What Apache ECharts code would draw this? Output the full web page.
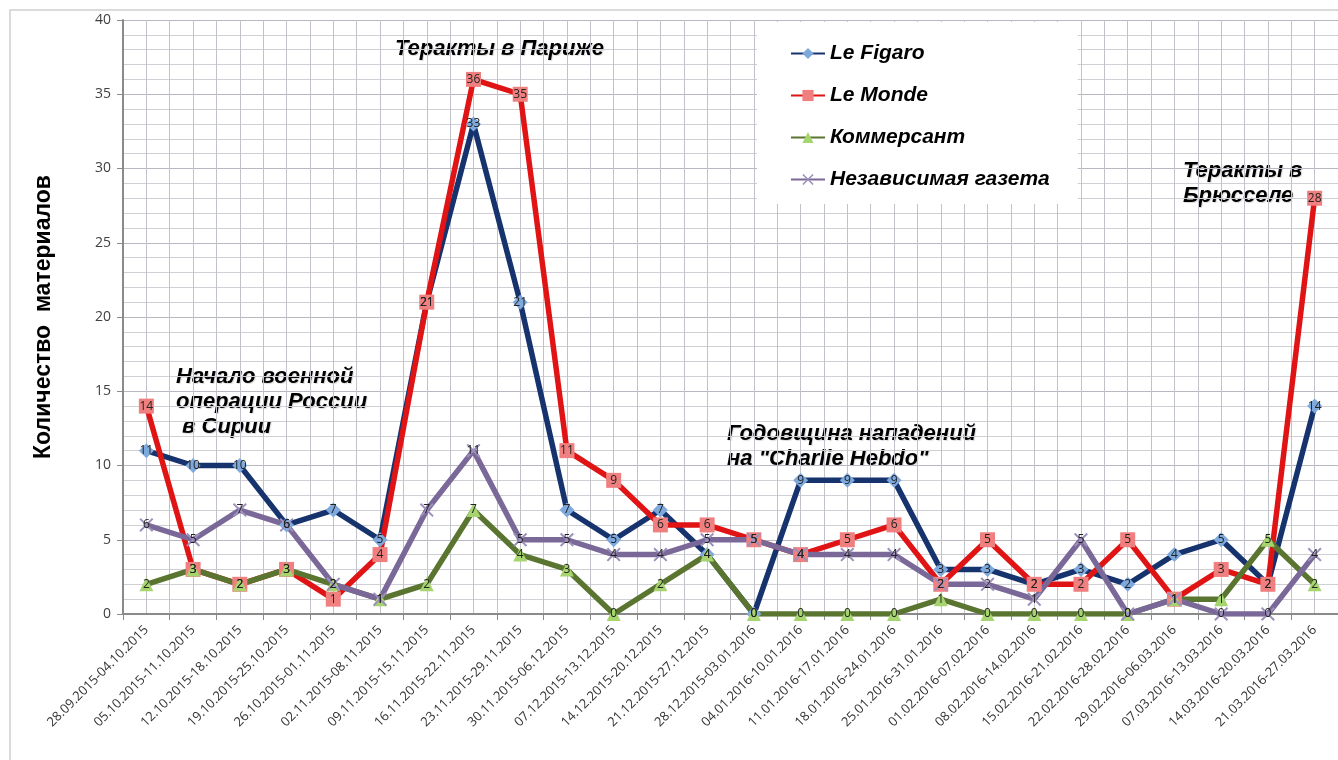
<!DOCTYPE html>
<html>
<head>
<meta charset="utf-8">
<script src="https://cdn.jsdelivr.net/npm/echarts@6/dist/echarts.min.js"></script>
<style>
  html, body { margin: 0; padding: 0; background: #fff; }
  #chart { width: 1338px; height: 760px; }
</style>
</head>
<body>
<div id="chart"></div>
<script>
const weeks = [
  '28.09.2015-04.10.2015', '05.10.2015-11.10.2015', '12.10.2015-18.10.2015',
  '19.10.2015-25.10.2015', '26.10.2015-01.11.2015', '02.11.2015-08.11.2015',
  '09.11.2015-15.11.2015', '16.11.2015-22.11.2015', '23.11.2015-29.11.2015',
  '30.11.2015-06.12.2015', '07.12.2015-13.12.2015', '14.12.2015-20.12.2015',
  '21.12.2015-27.12.2015', '28.12.2015-03.01.2016', '04.01.2016-10.01.2016',
  '11.01.2016-17.01.2016', '18.01.2016-24.01.2016', '25.01.2016-31.01.2016',
  '01.02.2016-07.02.2016', '08.02.2016-14.02.2016', '15.02.2016-21.02.2016',
  '22.02.2016-28.02.2016', '29.02.2016-06.03.2016', '07.03.2016-13.03.2016',
  '14.03.2016-20.03.2016', '21.03.2016-27.03.2016'
];
const leFigaro    = [11, 10, 10, 6, 7, 5, 21, 33, 21, 7, 5, 7, 4, 0, 9, 9, 9, 3, 3, 2, 3, 2, 4, 5, 2, 14];
const leMonde     = [14, 3, 2, 3, 1, 4, 21, 36, 35, 11, 9, 6, 6, 5, 4, 5, 6, 2, 5, 2, 2, 5, 1, 3, 2, 28];
const kommersant  = [2, 3, 2, 3, 2, 1, 2, 7, 4, 3, 0, 2, 4, 0, 0, 0, 0, 1, 0, 0, 0, 0, 1, 1, 5, 2];
const nezavisimaya = [6, 5, 7, 6, 2, 1, 7, 11, 5, 5, 4, 4, 5, 5, 4, 4, 4, 2, 2, 1, 5, 0, 1, 0, 0, 4];

const crossPath = 'path://M1,0L5,4L9,0L10,1L6,5L10,9L9,10L5,6L1,10L0,9L4,5L0,1Z';

function lineSeries(name, data, color, symbol, symbolColor, symbolSize) {
    return {
        name: name,
        type: 'line',
        data: data,
        symbol: symbol,
        symbolSize: symbolSize,
        lineStyle: { color: color, width: 5.5 },
        itemStyle: { color: symbolColor, borderColor: symbolColor, borderWidth: 0 },
        label: {
            show: true,
            position: 'inside',
            color: '#222',
            fontSize: 12,
            fontFamily: 'Open Sans'
        }
    };
}

const annoFont = {
    fontSize: 22,
    fontWeight: 'bold',
    fontStyle: 'italic',
    fontFamily: 'Liberation Sans',
    fill: '#000',
    lineHeight: 25,
    textShadowColor: 'rgba(0,0,0,0.15)',
    textShadowBlur: 1,
    textShadowOffsetX: 1,
    textShadowOffsetY: 1
};

let chart = echarts.init(document.getElementById('chart'));
chart.setOption({
    animation: false,
    backgroundColor: '#fff',
    grid: { left: 123, right: -5, top: 20, bottom: 146 },
    legend: {
        orient: 'vertical',
        left: 757,
        top: 22,
        padding: [21, 28, 14, 33],
        backgroundColor: '#fff',
        itemWidth: 34,
        itemHeight: 14,
        itemGap: 21,
        textStyle: {
            fontSize: 21,
            fontWeight: 'bold',
            fontStyle: 'italic',
            fontFamily: 'Liberation Sans',
            color: '#000'
        },
        data: ['Le Figaro', 'Le Monde', 'Коммерсант', 'Независимая газета']
    },
    xAxis: [{
        type: 'category',
        data: weeks,
        boundaryGap: true,
        axisLine: { lineStyle: { color: '#8a8a8a', width: 2 } },
        axisTick: { show: true, length: 6, lineStyle: { color: '#8a8a8a' } },
        splitLine: { show: false },
        axisLabel: {
            rotate: 45,
            interval: 0,
            color: '#333',
            fontSize: 13,
            fontFamily: 'Open Sans',
            margin: 14
        }
    }, {
        type: 'value',
        min: 0,
        max: 52,
        interval: 1,
        position: 'bottom',
        axisLine: { show: false },
        axisTick: { show: false },
        axisLabel: { show: false },
        splitLine: { show: true, lineStyle: { color: '#c2c2ca', width: 1 } }
    }],
    yAxis: {
        type: 'value',
        min: 0,
        max: 40,
        interval: 5,
        name: 'Количество  материалов',
        nameLocation: 'middle',
        nameGap: 68,
        nameTextStyle: {
            fontSize: 23,
            fontWeight: 'bold',
            fontFamily: 'Liberation Sans',
            color: '#000'
        },
        axisLine: { show: true, lineStyle: { color: '#8a8a8a', width: 2 } },
        axisTick: { show: true, length: 6, lineStyle: { color: '#8a8a8a' } },
        axisLabel: { color: '#404040', fontSize: 14, fontFamily: 'Open Sans', margin: 12 },
        splitLine: { show: true, lineStyle: { color: '#b8b8c0', width: 1 } },
        minorTick: { show: false, splitNumber: 5 },
        minorSplitLine: { show: true, lineStyle: { color: '#cfcfd5', width: 1 } }
    },
    series: [
        lineSeries('Le Figaro', leFigaro, '#16336e', 'diamond', '#7ea9dd', 15),
        lineSeries('Le Monde', leMonde, '#e01414', 'rect', '#f08080', 15),
        lineSeries('Коммерсант', kommersant, '#5a7530', 'triangle', '#a6d46e', 14),
        lineSeries('Независимая газета', nezavisimaya, '#7a6898', crossPath, '#9d90bd', 14)
    ],
    graphic: [
        {
            type: 'rect',
            shape: { x: 10, y: 10, width: 1340, height: 760 },
            style: { fill: 'none', stroke: '#d0d0d0', lineWidth: 1.5 },
            silent: true,
            z: -1
        },
        { type: 'text', left: 395, top: 36, style: Object.assign({ text: 'Теракты в Париже' }, annoFont) },
        { type: 'text', left: 176, top: 364, style: Object.assign({ text: 'Начало военной\nоперации России\n в Сирии' }, annoFont) },
        { type: 'text', left: 727, top: 421, style: Object.assign({ text: 'Годовщина нападений\nна "Charlie Hebdo"' }, annoFont) },
        { type: 'text', left: 1183, top: 158, style: Object.assign({ text: 'Теракты в\nБрюсселе' }, annoFont) }
    ]
});
</script>
</body>
</html>
